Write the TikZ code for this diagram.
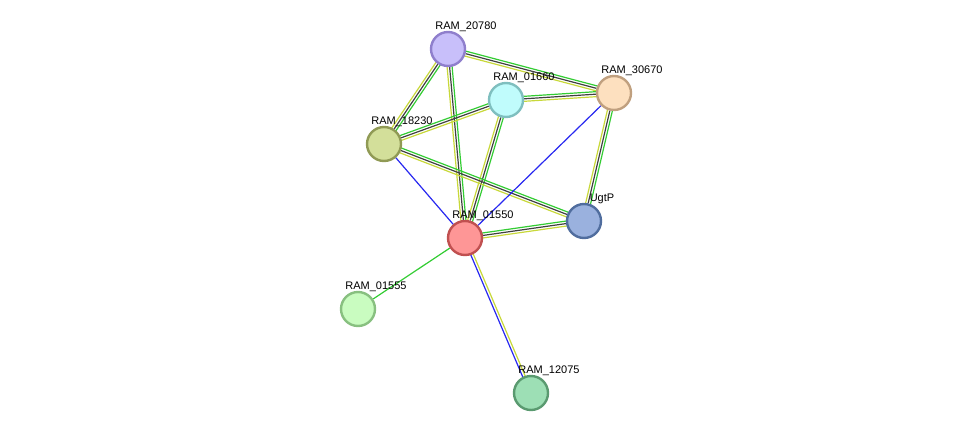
\documentclass[tikz,border=0pt]{standalone}
\usepackage{fontspec}
\setmainfont{Liberation Sans}
\usetikzlibrary{calc,backgrounds}

\definecolor{lgreen}{HTML}{33CC33}
\definecolor{lyellow}{HTML}{C8D83A}
\definecolor{lblue}{HTML}{2828F0}
\definecolor{d20780}{HTML}{8F7FCC}\definecolor{f20780}{HTML}{C8BFFA}
\definecolor{d01660}{HTML}{7FBFBF}\definecolor{f01660}{HTML}{C0FCFC}
\definecolor{d30670}{HTML}{C0A07F}\definecolor{f30670}{HTML}{FDE0BF}
\definecolor{d18230}{HTML}{909A55}\definecolor{f18230}{HTML}{D3DF9A}
\definecolor{dugtp}{HTML}{506D9E}\definecolor{fugtp}{HTML}{9AB1DE}
\definecolor{d01550}{HTML}{C05050}\definecolor{f01550}{HTML}{FE9696}
\definecolor{d01555}{HTML}{88C080}\definecolor{f01555}{HTML}{C9FCC0}
\definecolor{d12075}{HTML}{5A9A70}\definecolor{f12075}{HTML}{9DDFB5}

\tikzset{
  prot/.style={draw=d#1, fill=f#1, circle, line width=2.4pt, minimum size=34pt, inner sep=0pt},
  lbl/.style={anchor=west, xshift=18pt, yshift=22pt, font=\fontsize{11}{12}\selectfont, inner sep=0pt},
  ev/.style={line width=1.2pt}
}
\newcommand{\linkall}[2]{%
  \draw[ev, lgreen] ($(#1)!2.5pt!90:(#2)$) -- ($(#2)!2.5pt!-90:(#1)$);
  \draw[ev, black!75] (#1) -- (#2);
  \draw[ev, lyellow] ($(#1)!2.5pt!-90:(#2)$) -- ($(#2)!2.5pt!90:(#1)$);
}

\begin{document}
\begin{tikzpicture}[x=1pt, y=-1pt]
\useasboundingbox (0,0) rectangle (976,439);
\node (r20780)[prot=20780, label={[lbl]center:RAM\_20780}] at (448,49) {};
\node (r01660)[prot=01660, label={[lbl]center:RAM\_01660}] at (506,100) {};
\node (r30670)[prot=30670, label={[lbl]center:RAM\_30670}] at (614,93) {};
\node (r18230)[prot=18230, label={[lbl]center:RAM\_18230}] at (384,144) {};
\node (ugtp)[prot=ugtp, label={[lbl]center:UgtP}] at (584,221) {};
\node (r01550)[prot=01550, label={[lbl]center:RAM\_01550}] at (465,238) {};
\node (r01555)[prot=01555, label={[lbl]center:RAM\_01555}] at (358,309) {};
\node (r12075)[prot=12075, label={[lbl]center:RAM\_12075}] at (531,393) {};

\begin{scope}[on background layer]
\linkall{r20780}{r30670}
\linkall{r01660}{r30670}
\linkall{r20780}{r18230}
\linkall{r20780}{r01550}
\linkall{r18230}{r01660}
\linkall{r01660}{r01550}
\linkall{r18230}{ugtp}
\linkall{r30670}{ugtp}
\linkall{r01550}{ugtp}
\draw[ev, lblue] (r18230) -- (r01550);
\draw[ev, lblue] (r30670) -- (r01550);
\draw[ev, lgreen] (r01550) -- (r01555);
\draw[ev, lyellow] ($(r01550)!1.3pt!90:(r12075)$) -- ($(r12075)!1.3pt!-90:(r01550)$);
\draw[ev, lblue] ($(r01550)!1.3pt!-90:(r12075)$) -- ($(r12075)!1.3pt!90:(r01550)$);
\end{scope}
\end{tikzpicture}
\end{document}
